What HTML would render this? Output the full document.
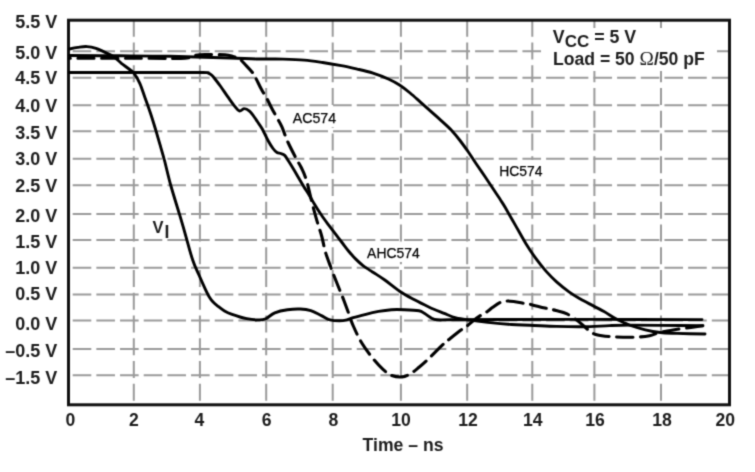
<!DOCTYPE html><html><head><meta charset="utf-8"><style>html,body{margin:0;padding:0;background:#fff;}svg{display:block;}svg text{font-family:"Liberation Sans",Arial,sans-serif;}svg{fill:#1c1c1c;}</style></head><body>
<svg width="755" height="472" viewBox="0 0 755 472">
<defs><filter id="bl" color-interpolation-filters="sRGB" x="0" y="0" width="755" height="472" filterUnits="userSpaceOnUse"><feConvolveMatrix order="3" kernelMatrix="0.0277 0.1110 0.0277 0.1110 0.4452 0.1110 0.0277 0.1110 0.0277" edgeMode="duplicate" preserveAlpha="false"/></filter></defs>
<g filter="url(#bl)">
<rect width="755" height="472" fill="#fff"/>
<g stroke="#9a9a9a" stroke-width="2" stroke-dasharray="18.6 5.07" fill="none"><line x1="72.7" y1="51.2" x2="728.5" y2="51.2"/><line x1="72.7" y1="77.8" x2="728.5" y2="77.8"/><line x1="72.7" y1="105.3" x2="728.5" y2="105.3"/><line x1="72.7" y1="131.2" x2="728.5" y2="131.2"/><line x1="72.7" y1="158.8" x2="728.5" y2="158.8"/><line x1="72.7" y1="185.3" x2="728.5" y2="185.3"/><line x1="72.7" y1="213.9" x2="728.5" y2="213.9"/><line x1="72.7" y1="240.1" x2="728.5" y2="240.1"/><line x1="72.7" y1="267.8" x2="728.5" y2="267.8"/><line x1="72.7" y1="294.5" x2="728.5" y2="294.5"/><line x1="72.7" y1="320.6" x2="728.5" y2="320.6"/><line x1="72.7" y1="349.1" x2="728.5" y2="349.1"/><line x1="72.7" y1="375.2" x2="728.5" y2="375.2"/></g>
<g stroke="#9a9a9a" stroke-width="2" stroke-dasharray="17 5.76" fill="none"><line x1="133.8" y1="19.7" x2="133.8" y2="404.8"/><line x1="199.9" y1="19.7" x2="199.9" y2="404.8"/><line x1="266.2" y1="19.7" x2="266.2" y2="404.8"/><line x1="332.7" y1="19.7" x2="332.7" y2="404.8"/><line x1="400.9" y1="19.7" x2="400.9" y2="404.8"/><line x1="467.2" y1="19.7" x2="467.2" y2="404.8"/><line x1="532.3" y1="19.7" x2="532.3" y2="404.8"/><line x1="594.4" y1="19.7" x2="594.4" y2="404.8"/><line x1="661.0" y1="19.7" x2="661.0" y2="404.8"/></g>
<rect x="544" y="28" width="173" height="43" fill="#fff"/>
<rect x="290" y="107" width="48" height="20" fill="#fff"/>
<rect x="497" y="160" width="48" height="20" fill="#fff"/>
<rect x="365" y="242" width="57" height="20" fill="#fff"/>
<rect x="68.5" y="20.2" width="661.0" height="384.6" fill="none" stroke="#111" stroke-width="3"/>
<g fill="none" stroke="#000" stroke-linejoin="round" stroke-linecap="round">
<path d="M69.5 49.0 C70.9 48.7 75.1 47.8 78.0 47.4 C80.9 47.0 84.0 46.4 87.0 46.6 C90.0 46.8 92.9 47.4 96.0 48.4 C99.1 49.4 102.7 51.2 105.7 52.6 C108.7 54.0 111.2 54.9 113.8 56.7 C116.4 58.5 118.9 61.2 121.4 63.3 C123.9 65.3 127.0 67.4 129.0 69.0 C131.0 70.6 131.7 70.3 133.5 72.7 C135.3 75.1 137.9 79.1 139.8 83.3 C141.7 87.5 143.3 93.1 145.1 98.1 C146.9 103.0 148.6 107.7 150.4 113.0 C152.2 118.3 154.1 124.6 155.7 129.9 C157.3 135.2 158.5 139.6 160.0 144.7 C161.5 149.8 162.7 153.7 164.5 160.5 C166.3 167.3 168.3 176.6 170.8 185.5 C173.3 194.4 176.8 205.4 179.3 213.7 C181.8 222.0 183.4 227.6 185.6 235.3 C187.8 243.0 190.4 253.3 192.7 260.0 C194.9 266.7 197.0 270.4 199.1 275.3 C201.2 280.2 203.7 285.7 205.4 289.3 C207.1 292.9 208.0 294.8 209.3 296.9 C210.6 299.0 211.6 300.4 213.1 302.0 C214.6 303.6 216.3 304.9 218.2 306.4 C220.1 307.9 222.3 309.6 224.5 310.9 C226.7 312.2 227.7 312.8 231.4 314.1 C235.1 315.4 242.0 317.7 246.7 318.7 C251.4 319.7 256.2 320.0 259.4 320.0 C262.6 320.0 263.2 319.9 265.8 318.7 C268.4 317.5 271.2 314.3 274.8 312.8 C278.4 311.3 283.2 310.3 287.5 309.7 C291.8 309.1 296.4 308.8 300.3 309.0 C304.2 309.2 307.3 309.6 310.8 310.7 C314.3 311.8 318.2 314.1 321.4 315.6 C324.6 317.1 326.9 319.0 329.9 319.8 C332.9 320.6 336.6 320.7 339.4 320.7 C342.2 320.7 344.6 320.3 346.9 319.8 C349.2 319.3 350.0 318.6 353.2 317.7 C356.4 316.8 361.7 315.4 365.9 314.3 C370.1 313.2 374.4 312.2 378.6 311.4 C382.9 310.6 387.2 310.0 391.4 309.7 C395.6 309.4 399.4 309.5 404.0 309.7 C408.6 309.9 415.6 310.2 419.0 310.8 C422.4 311.4 422.2 312.1 424.3 313.3 C426.4 314.5 429.6 317.1 431.7 318.2 C433.8 319.3 433.9 319.5 437.0 319.8 C440.1 320.1 439.5 319.9 450.0 319.8 C460.5 319.8 475.0 319.6 500.0 319.5 C525.0 319.4 566.3 319.4 600.0 319.4 C633.7 319.4 685.0 319.6 702.0 319.6" stroke-width="2.9"/>
<path d="M69.5 55.5 C77.9 55.5 103.2 55.7 120.0 55.8 C136.8 55.9 151.7 55.9 170.0 56.3 C188.3 56.7 215.6 57.5 230.0 58.0 C244.4 58.5 247.7 58.8 256.5 59.0 C265.3 59.2 275.1 58.9 283.0 59.1 C290.9 59.3 297.6 59.5 304.2 60.1 C310.8 60.7 316.5 61.6 322.7 62.5 C328.9 63.4 335.6 64.6 341.3 65.7 C347.1 66.8 351.9 67.9 357.2 69.1 C362.5 70.3 367.7 71.4 373.0 73.1 C378.3 74.8 384.5 77.2 388.9 79.2 C393.3 81.2 396.0 82.7 399.5 85.0 C403.0 87.3 406.6 90.1 410.1 93.0 C413.6 95.9 417.4 99.4 420.7 102.3 C424.0 105.2 426.7 107.6 430.0 110.6 C433.3 113.6 437.1 116.9 440.6 120.1 C444.1 123.3 448.0 126.6 451.2 130.0 C454.4 133.4 457.2 136.9 460.0 140.5 C462.8 144.1 465.3 147.7 468.0 151.5 C470.7 155.3 473.1 159.3 476.0 163.5 C478.9 167.7 482.1 172.4 485.1 176.8 C488.1 181.2 491.5 186.3 494.1 190.2 C496.7 194.1 498.6 197.1 500.5 200.0 C502.4 202.9 502.9 203.5 505.4 207.8 C507.9 212.1 512.2 219.7 515.6 225.6 C519.0 231.5 522.4 237.9 525.8 243.4 C529.2 248.9 532.6 254.0 536.0 258.7 C539.4 263.4 542.8 267.6 546.2 271.4 C549.6 275.2 552.5 278.2 556.3 281.6 C560.1 285.0 565.0 288.9 569.0 291.8 C573.0 294.7 576.1 296.5 580.0 298.8 C583.9 301.1 588.4 303.3 592.4 305.4 C596.4 307.5 600.2 309.5 604.0 311.6 C607.8 313.8 611.8 316.5 615.0 318.3 C618.2 320.1 620.4 321.0 623.0 322.2 C625.6 323.4 626.8 324.2 630.5 325.5 C634.2 326.8 640.3 328.6 645.3 329.8 C650.2 331.0 654.9 331.9 660.2 332.5 C665.5 333.1 669.6 333.1 677.1 333.4 C684.6 333.6 700.4 333.9 705.0 334.0" stroke-width="2.9"/>
<path d="M69.5 72.5 C82.9 72.5 127.8 72.5 150.0 72.5 C172.2 72.5 193.3 72.4 203.0 72.5 C212.7 72.6 206.8 72.7 208.3 73.2 C209.8 73.7 210.7 74.3 211.8 75.3 C212.9 76.3 213.5 77.1 215.0 79.0 C216.5 80.9 218.6 83.6 220.7 86.5 C222.8 89.4 225.2 93.1 227.5 96.3 C229.8 99.5 232.2 103.2 234.2 105.6 C236.2 108.0 237.6 110.4 239.3 110.9 C241.0 111.4 242.7 108.5 244.4 108.6 C246.1 108.6 247.8 109.7 249.5 111.2 C251.2 112.7 253.3 115.7 254.6 117.5 C255.9 119.3 256.3 120.0 257.5 121.8 C258.7 123.6 260.2 125.3 262.0 128.5 C263.8 131.7 266.5 137.7 268.3 141.0 C270.1 144.3 271.6 146.6 273.0 148.5 C274.4 150.4 275.7 151.7 277.0 152.5 C278.3 153.3 279.5 153.0 280.8 153.5 C282.1 154.0 283.4 154.2 284.7 155.4 C286.0 156.7 287.0 158.7 288.5 161.0 C290.0 163.3 291.9 166.4 293.6 169.2 C295.3 172.0 297.0 175.1 298.7 178.0 C300.4 180.9 302.1 183.8 303.7 186.5 C305.3 189.2 306.6 190.9 308.5 194.0 C310.4 197.1 312.7 201.3 314.8 204.8 C316.9 208.3 319.1 211.7 321.4 215.0 C323.6 218.3 326.0 221.5 328.3 224.6 C330.6 227.7 332.9 230.6 335.2 233.6 C337.5 236.6 339.7 239.5 342.0 242.5 C344.3 245.5 346.6 248.7 348.9 251.5 C351.2 254.3 353.5 256.8 355.8 259.1 C358.1 261.4 360.4 263.5 362.7 265.3 C365.0 267.1 367.6 268.7 369.6 270.1 C371.7 271.5 372.5 271.9 375.0 273.5 C377.5 275.1 380.7 277.1 384.8 280.0 C388.9 282.9 394.8 287.9 399.7 291.2 C404.6 294.5 409.6 297.1 414.5 299.8 C419.4 302.5 424.4 304.9 429.3 307.2 C434.2 309.5 439.8 311.6 444.2 313.4 C448.6 315.2 451.7 316.8 456.0 317.9 C460.3 319.0 464.7 319.4 470.0 320.1 C475.3 320.9 480.8 321.7 487.7 322.4 C494.6 323.1 504.4 324.0 511.5 324.5 C518.5 325.0 522.5 324.9 530.0 325.2 C537.5 325.5 547.7 326.1 556.5 326.4 C565.3 326.7 574.2 326.9 583.0 326.8 C591.8 326.7 601.7 325.9 609.5 325.6 C617.3 325.3 621.6 325.1 630.0 325.1 C638.4 325.1 647.8 325.3 660.0 325.4 C672.2 325.5 695.8 325.7 703.0 325.8" stroke-width="2.9"/>
<path d="M69.5 58.3 C82.9 58.3 130.8 58.3 150.0 58.3 C169.2 58.3 177.5 58.7 185.0 58.2 C192.5 57.7 191.7 56.1 195.0 55.5 C198.3 54.9 200.0 54.7 205.0 54.6 C210.0 54.5 220.3 54.5 225.0 54.8 C229.7 55.1 230.6 55.8 233.0 56.5 C235.4 57.2 237.2 57.3 239.4 58.8 C241.6 60.3 243.9 63.2 246.2 65.6 C248.5 68.0 251.3 71.0 253.0 73.2 C254.7 75.5 254.9 76.4 256.3 79.1 C257.7 81.8 259.7 86.2 261.4 89.3 C263.1 92.4 264.8 94.7 266.5 97.8 C268.2 100.9 269.9 104.7 271.6 107.9 C273.3 111.2 275.0 114.2 276.7 117.3 C278.4 120.4 280.0 122.6 281.8 126.6 C283.6 130.6 285.2 136.2 287.6 141.5 C290.0 146.8 293.9 154.2 296.2 158.6 C298.5 163.0 299.8 164.3 301.5 168.0 C303.2 171.7 304.7 174.5 306.5 180.5 C308.3 186.5 310.5 197.1 312.4 204.2 C314.3 211.3 316.1 217.9 317.7 223.3 C319.3 228.7 320.5 231.7 321.8 236.5 C323.1 241.3 323.9 246.9 325.4 252.0 C326.9 257.1 329.3 263.2 330.7 267.0 C332.1 270.8 331.9 270.5 333.5 274.5 C335.1 278.5 338.2 286.4 340.0 290.8 C341.8 295.2 342.6 297.1 344.0 300.8 C345.4 304.5 346.9 308.6 348.5 312.8 C350.1 317.0 351.1 321.0 353.3 326.0 C355.5 331.0 358.6 337.7 361.8 343.0 C365.0 348.3 368.9 353.4 372.4 357.8 C375.9 362.2 379.8 366.5 383.0 369.4 C386.2 372.3 388.2 374.1 391.4 375.4 C394.6 376.6 398.8 377.2 402.0 376.9 C405.2 376.6 407.7 375.3 410.5 373.7 C413.3 372.1 415.8 369.9 419.0 367.3 C422.2 364.7 425.7 361.5 429.6 357.8 C433.5 354.1 438.9 348.3 442.3 345.1 C445.7 341.9 446.9 341.2 450.0 338.7 C453.1 336.2 457.8 332.4 460.6 330.3 C463.4 328.2 464.9 327.6 467.0 326.0 C469.1 324.4 471.0 322.5 473.3 320.7 C475.6 318.9 478.4 316.9 480.7 315.4 C483.0 313.9 485.2 313.0 487.1 311.7 C489.1 310.4 490.3 309.1 492.4 307.6 C494.5 306.1 497.5 303.8 499.8 302.7 C502.1 301.6 503.8 301.2 506.1 301.0 C508.4 300.8 510.8 301.1 513.6 301.5 C516.4 301.9 520.4 302.7 523.1 303.2 C525.8 303.7 526.4 303.5 530.0 304.3 C533.6 305.1 540.6 307.0 544.9 308.0 C549.2 309.0 552.3 309.5 556.0 310.5 C559.7 311.5 563.0 311.9 567.0 313.9 C571.0 315.9 576.2 319.8 579.7 322.4 C583.2 325.0 585.3 327.8 588.1 329.8 C590.9 331.9 592.4 333.5 596.6 334.7 C600.9 335.9 607.2 336.4 613.6 336.8 C620.0 337.2 628.7 337.4 634.7 337.2 C640.7 337.0 645.7 336.4 649.6 335.7 C653.5 335.0 654.8 333.8 658.0 333.0 C661.2 332.2 664.7 331.5 668.6 330.8 C672.5 330.1 675.8 329.5 681.4 328.7 C687.0 327.9 699.0 326.3 702.5 325.8" stroke-width="3.1" stroke-dasharray="16 7.6" stroke-dashoffset="15.0" stroke-linecap="round"/>
</g>
<text x="57.3" y="28.1" text-anchor="end" font-size="18" font-weight="bold">5.5 V</text>
<text x="57.3" y="58.8" text-anchor="end" font-size="18" font-weight="bold">5.0 V</text>
<text x="57.3" y="84.1" text-anchor="end" font-size="18" font-weight="bold">4.5 V</text>
<text x="57.3" y="112.2" text-anchor="end" font-size="18" font-weight="bold">4.0 V</text>
<text x="57.3" y="138.9" text-anchor="end" font-size="18" font-weight="bold">3.5 V</text>
<text x="57.3" y="164.8" text-anchor="end" font-size="18" font-weight="bold">3.0 V</text>
<text x="57.3" y="191.6" text-anchor="end" font-size="18" font-weight="bold">2.5 V</text>
<text x="57.3" y="221.7" text-anchor="end" font-size="18" font-weight="bold">2.0 V</text>
<text x="57.3" y="248.2" text-anchor="end" font-size="18" font-weight="bold">1.5 V</text>
<text x="57.3" y="273.7" text-anchor="end" font-size="18" font-weight="bold">1.0 V</text>
<text x="57.3" y="299.8" text-anchor="end" font-size="18" font-weight="bold">0.5 V</text>
<text x="57.3" y="330.2" text-anchor="end" font-size="18" font-weight="bold">0.0 V</text>
<text x="57.3" y="356.6" text-anchor="end" font-size="18" font-weight="bold">–0.5 V</text>
<text x="57.3" y="384.3" text-anchor="end" font-size="18" font-weight="bold">–1.5 V</text>
<text x="70.5" y="426" text-anchor="middle" font-size="17.6" font-weight="bold">0</text>
<text x="134.0" y="426" text-anchor="middle" font-size="17.6" font-weight="bold">2</text>
<text x="199.5" y="426" text-anchor="middle" font-size="17.6" font-weight="bold">4</text>
<text x="266.7" y="426" text-anchor="middle" font-size="17.6" font-weight="bold">6</text>
<text x="333.5" y="426" text-anchor="middle" font-size="17.6" font-weight="bold">8</text>
<text x="401.0" y="426" text-anchor="middle" font-size="17.6" font-weight="bold">10</text>
<text x="468.0" y="426" text-anchor="middle" font-size="17.6" font-weight="bold">12</text>
<text x="532.8" y="426" text-anchor="middle" font-size="17.6" font-weight="bold">14</text>
<text x="595.0" y="426" text-anchor="middle" font-size="17.6" font-weight="bold">16</text>
<text x="662.0" y="426" text-anchor="middle" font-size="17.6" font-weight="bold">18</text>
<text x="725.3" y="426" text-anchor="middle" font-size="17.6" font-weight="bold">20</text>
<text x="403" y="451" text-anchor="middle" font-size="17.6" font-weight="bold">Time – ns</text>
<text x="552.8" y="43" font-size="17.8" font-weight="bold">V<tspan font-size="17" dy="4.3">CC</tspan><tspan dy="-4.3"> = 5 V</tspan></text>
<text x="553" y="65.4" font-size="17.6" font-weight="bold">Load = 50 <tspan font-family="Liberation Serif" font-weight="normal" font-size="19.3">Ω</tspan>/50 pF</text>
<g style="fill:#000" stroke="#000" stroke-width="0.25">
<text x="292.7" y="122.7" font-size="15.2" textLength="43.4" lengthAdjust="spacingAndGlyphs">AC574</text>
<text x="499.3" y="176.2" font-size="15.2" textLength="43.2" lengthAdjust="spacingAndGlyphs">HC574</text>
<text x="367.1" y="258.1" font-size="15.2" textLength="52.6" lengthAdjust="spacingAndGlyphs">AHC574</text>
</g>
<text x="152.6" y="233.3" font-size="16.5" font-weight="bold">V<tspan dx="1" dy="4.6" font-size="17.6">I</tspan></text>
</g></svg></body></html>
